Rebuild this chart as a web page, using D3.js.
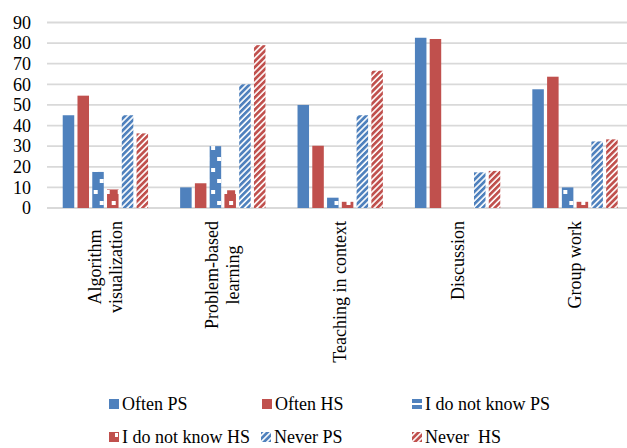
<!DOCTYPE html>
<html>
<head>
<meta charset="utf-8">
<script src="https://cdn.jsdelivr.net/npm/d3@7/dist/d3.min.js"></script>
<style>
  html, body { margin: 0; padding: 0; background: #ffffff; }
  svg { display: block; }
  text { font-family: "Liberation Serif", "Times New Roman", serif; fill: #000; }
</style>
</head>
<body>
<svg id="chart" width="627" height="448"></svg>
<script>
// Teaching methods and how often they are used (percent of respondents)
const categories = ["Algorithm visualization", "Problem-based learning", "Teaching in context", "Discussion", "Group work"];
const categoryLines = [["Algorithm", "visualization"], ["Problem-based", "learning"], ["Teaching in context"], ["Discussion"], ["Group work"]];

const seriesNames = ["Often PS", "Often HS", "I do not know PS", "I do not know HS", "Never PS", "Never  HS"];
const oftenPS     = [45, 10, 50, 82.6, 57.6];
const oftenHS     = [54.5, 12, 30.2, 82, 63.7];
const dontKnowPS  = [17.5, 30, 5, 0, 10];
const dontKnowHS  = [9, 8.6, 3, 0, 3];
const neverPS     = [45, 60, 45, 17.3, 32.3];
const neverHS     = [36.2, 79, 66.6, 18, 33.3];

const yTicks = [0, 10, 20, 30, 40, 50, 60, 70, 80, 90];

const seriesValues = [oftenPS, oftenHS, dontKnowPS, dontKnowHS, neverPS, neverHS];
const BLUE = "#4F81BD", RED = "#C0504D";
const seriesColor = [BLUE, RED, BLUE, RED, BLUE, RED];
const seriesFill  = ["solid", "solid", "dash", "dash", "diag", "diag"];

const svg = d3.select("#chart");
const defs = svg.append("defs");

// pattern fills
function dashPattern(id, color) {
  const p = defs.append("pattern").attr("id", id)
    .attr("patternUnits", "userSpaceOnUse")
    .attr("width", 12).attr("height", 22);
  p.append("rect").attr("width", 12).attr("height", 22).attr("fill", color);
  p.append("rect").attr("x", 1).attr("y", 3).attr("width", 4).attr("height", 4).attr("fill", "#fff");
  p.append("rect").attr("x", 7).attr("y", 14).attr("width", 4).attr("height", 4).attr("fill", "#fff");
}
function diagPattern(id, color) {
  const p = defs.append("pattern").attr("id", id)
    .attr("patternUnits", "userSpaceOnUse")
    .attr("width", 4.3).attr("height", 10)
    .attr("patternTransform", "rotate(45)");
  p.append("rect").attr("width", 4.3).attr("height", 10).attr("fill", "#fff");
  p.append("rect").attr("width", 2.7).attr("height", 10).attr("fill", color);
}
dashPattern("dashBlue", BLUE);
dashPattern("dashRed", RED);
diagPattern("diagBlue", BLUE);
diagPattern("diagRed", RED);

function fillFor(i) {
  const c = seriesColor[i] === BLUE ? "Blue" : "Red";
  if (seriesFill[i] === "dash") return `url(#dash${c})`;
  if (seriesFill[i] === "diag") return `url(#diag${c})`;
  return seriesColor[i];
}

// scales
const x0 = d3.scaleBand().domain(categories).range([46.7, 633.7])
  .paddingInner(0.273).paddingOuter(0.1365);
const x1 = d3.scaleBand().domain(d3.range(seriesNames.length))
  .range([0, x0.bandwidth()]).paddingInner(0.22);
const y = d3.scaleLinear().domain([0, 90]).range([208, 22.5]);

// gridlines
svg.append("g").selectAll("line").data(yTicks).join("line")
  .attr("x1", 47).attr("x2", 627)
  .attr("y1", d => y(d)).attr("y2", d => y(d))
  .attr("stroke", "#d9d9d9").attr("stroke-width", 1.8);

// y axis labels
const yAxis = d3.axisLeft(y).tickValues(yTicks).tickSize(0).tickPadding(0);
const yg = svg.append("g").attr("transform", "translate(31,0)").call(yAxis);
yg.select(".domain").remove();
yg.selectAll("text")
  .style("font-family", "'Liberation Serif', 'Times New Roman', serif")
  .style("font-size", "18px").attr("fill", "#000");

// bars
const groups = svg.append("g").selectAll("g").data(categories).join("g")
  .attr("transform", d => `translate(${x0(d)},0)`);
groups.selectAll("rect")
  .data((d, ci) => seriesValues.map((vals, si) => ({ si, v: vals[ci] })))
  .join("rect")
  .attr("x", d => x1(d.si))
  .attr("width", x1.bandwidth())
  .attr("y", d => y(d.v))
  .attr("height", d => y(0) - y(d.v))
  .attr("fill", d => fillFor(d.si));

// category labels, rotated, end aligned just below the axis
const labelTop = 221;
const lineH = 21;
categories.forEach((c, ci) => {
  const lines = categoryLines[ci];
  const cx = x0(c) + x0.bandwidth() / 2;
  const t = svg.append("text")
    .attr("text-anchor", "middle")
    .style("font-size", "18px");
  lines.forEach((ln, li) => {
    t.append("tspan").attr("x", 0)
      .attr("y", (li - (lines.length - 1) / 2) * lineH + 6)
      .text(ln);
  });
  let maxLen = 0;
  t.selectAll("tspan").each(function () {
    maxLen = Math.max(maxLen, this.getComputedTextLength());
  });
  t.attr("transform", `translate(${cx},${labelTop + maxLen / 2}) rotate(-90)`);
});

// legend
const legendPos = [
  { x: 109, y: 410 }, { x: 262, y: 410 }, { x: 412, y: 410 },
  { x: 109, y: 443 }, { x: 261, y: 443 }, { x: 412, y: 443 }
];
const legend = svg.append("g");
seriesNames.forEach((name, i) => {
  const p = legendPos[i];
  const g = legend.append("g").attr("transform", `translate(${p.x},${p.y})`);
  const col = seriesColor[i];
  if (seriesFill[i] === "solid") {
    g.append("rect").attr("x", 0).attr("y", -11).attr("width", 10).attr("height", 10).attr("fill", col);
  } else if (seriesFill[i] === "dash") {
    g.append("rect").attr("x", 0).attr("y", -11).attr("width", 10).attr("height", 10).attr("fill", col);
    if (i === 2) {
      g.append("rect").attr("x", 0).attr("y", -7).attr("width", 10).attr("height", 2).attr("fill", "#fff");
    } else {
      g.append("rect").attr("x", 6).attr("y", -10).attr("width", 3).attr("height", 4).attr("fill", "#fff");
    }
  } else {
    g.append("rect").attr("x", 0).attr("y", -11).attr("width", 10).attr("height", 10)
      .attr("fill", `url(#diag${col === BLUE ? "Blue" : "Red"})`);
  }
  g.append("text").attr("x", 13).attr("y", 0)
    .style("font-size", "18px").style("white-space", "pre")
    .text(name);
});
</script>
</body>
</html>
